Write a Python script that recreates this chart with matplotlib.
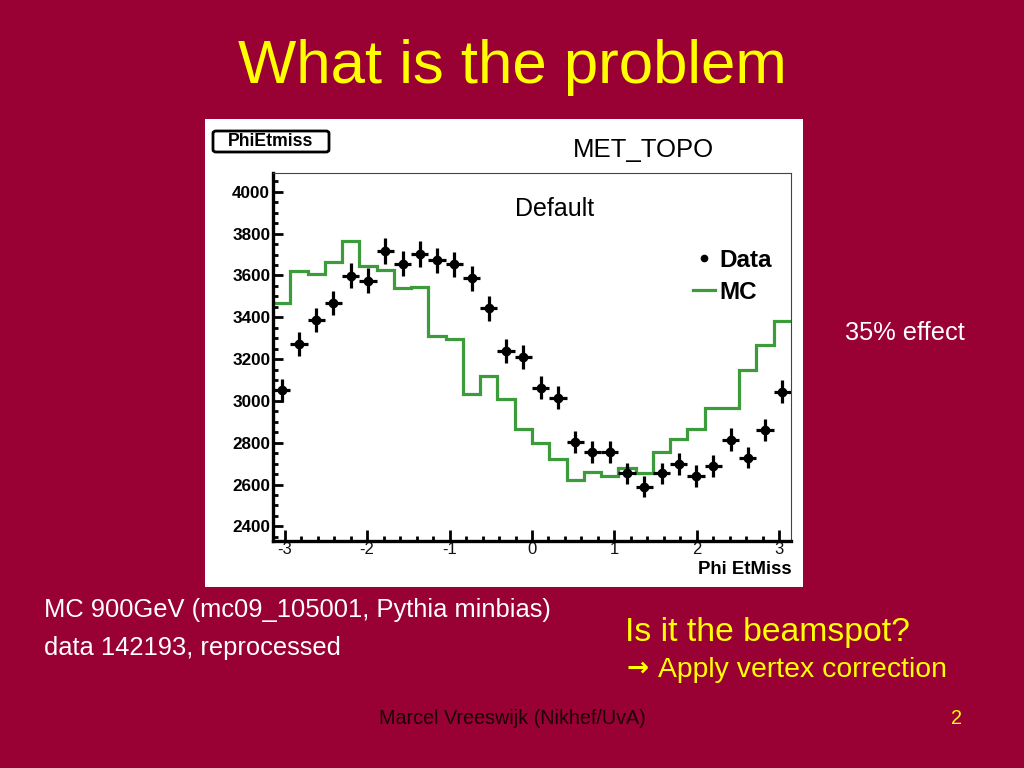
import matplotlib
matplotlib.use('Agg')
import matplotlib.pyplot as plt
import numpy as np
from matplotlib.lines import Line2D
from matplotlib.patches import Rectangle, FancyBboxPatch
from matplotlib.ticker import MultipleLocator

SLIDE_BG = '#990033'
YELLOW = '#ffff00'
MC_GREEN = '#3c9c3c'
FONT = 'Liberation Sans'

# 30 bins in phi, [-pi, pi]
N_BINS = 30
DATA_COUNTS = [3050, 3270, 3386, 3469, 3598, 3574, 3716, 3657, 3702, 3673,
               3653, 3586, 3442, 3239, 3211, 3064, 3016, 2804, 2756, 2756,
               2653, 2589, 2653, 2697, 2640, 2689, 2815, 2729, 2860, 3043]
MC_COUNTS = [3469, 3621, 3609, 3665, 3766, 3646, 3625, 3538, 3545, 3311,
             3298, 3035, 3120, 3007, 2868, 2799, 2724, 2621, 2658, 2640,
             2677, 2656, 2756, 2820, 2868, 2964, 2964, 3150, 3267, 3383]

TITLE = 'What is the problem'
SAMPLE_LINES = ['MC 900GeV (mc09_105001, Pythia minbias)',
                'data 142193, reprocessed']
QUESTION = 'Is it the beamspot?'
ANSWER = 'Apply vertex correction'
FOOTER = 'Marcel Vreeswijk (Nikhef/UvA)'
PAGE = '2'


def px(x, y):
    # slide pixel -> figure fraction
    return x / 1024, 1 - y / 768


def main():
    plt.rcParams['font.family'] = [FONT, 'DejaVu Sans']

    fig = plt.figure(figsize=(10.24, 7.68), dpi=100, facecolor=SLIDE_BG)

    # white canvas behind the ROOT plot
    x0, y0 = px(205, 587)
    x1, y1 = px(803, 119)
    fig.patches.append(Rectangle((x0, y0), x1 - x0, y1 - y0,
                                 transform=fig.transFigure,
                                 facecolor='white', edgecolor='none', zorder=-1))

    # axes frame
    l, b = px(273, 541)
    r, t = px(791, 173)
    ax = fig.add_axes([l, b, r - l, t - b], zorder=1)
    ax.set_facecolor('white')

    edges = np.linspace(-np.pi, np.pi, N_BINS + 1)
    centers = 0.5 * (edges[:-1] + edges[1:])
    halfw = 0.5 * (edges[1] - edges[0])
    data = np.asarray(DATA_COUNTS, dtype=float)

    ax.stairs(MC_COUNTS, edges, baseline=None, color=MC_GREEN, lw=2.3, zorder=2)
    ax.errorbar(centers, data, xerr=halfw, yerr=np.sqrt(data), fmt='o',
                color='black', ms=6, elinewidth=2.3, capsize=0, zorder=3)

    ax.set_xlim(-np.pi, np.pi)
    ax.set_ylim(2330, 4090)
    ax.yaxis.set_major_locator(MultipleLocator(200))
    ax.yaxis.set_minor_locator(MultipleLocator(50))
    ax.xaxis.set_major_locator(MultipleLocator(1))
    ax.xaxis.set_minor_locator(MultipleLocator(0.2))

    for side in ('left', 'bottom'):
        ax.spines[side].set_linewidth(2.4)
    for side in ('top', 'right'):
        ax.spines[side].set_linewidth(0.8)
        ax.spines[side].set_color('#444444')

    ax.tick_params(axis='both', which='both', direction='in',
                   top=False, right=False, width=2.0)
    ax.tick_params(axis='y', which='major', length=7, pad=2, labelsize=12.3)
    ax.tick_params(axis='y', which='minor', length=3.5)
    ax.tick_params(axis='x', which='major', length=8, pad=1, labelsize=12)
    ax.tick_params(axis='x', which='minor', length=3.5)
    for lab in ax.get_yticklabels():
        lab.set_fontweight('bold')
    ax.set_xticks([-3, -2, -1, 0, 1, 2, 3])
    ax.set_xticklabels(['-3', '-2', '-1', '0', '1', '2', '3'], color='#111111')

    # legend
    handles = [Line2D([], [], marker='o', ls='none', color='black', ms=4.5),
               Line2D([], [], color=MC_GREEN, lw=2.3)]
    fig.legend(handles, ['Data', 'MC'], loc='upper left',
               bbox_to_anchor=px(693, 249), frameon=False,
               handlelength=0.9, handletextpad=0.2, labelspacing=0.35,
               borderpad=0, borderaxespad=0,
               prop={'family': FONT, 'weight': 'bold', 'size': 17.5})

    # texts inside the white canvas
    fig.text(*px(643, 150), 'MET_TOPO', fontsize=18.5, ha='center', va='center')
    fig.text(*px(515, 209), 'Default', fontsize=18, ha='left', va='center')
    fig.text(*px(792, 570), 'Phi EtMiss', fontsize=13.4, fontweight='bold',
             ha='right', va='center')

    bx0, by0 = px(213, 152)
    bx1, by1 = px(329, 131)
    fig.patches.append(FancyBboxPatch((bx0, by0), bx1 - bx0, by1 - by0,
                                      boxstyle='round,pad=0,rounding_size=0.003',
                                      transform=fig.transFigure,
                                      facecolor='white', edgecolor='black',
                                      lw=2.0, zorder=5))
    fig.text(*px(271, 142), 'PhiEtmiss', fontsize=12.7, fontweight='bold',
             ha='center', va='center', zorder=6)

    # slide texts
    fig.text(*px(512, 68), TITLE, fontsize=44.5, color=YELLOW,
             ha='center', va='center')
    fig.text(*px(965, 333), '35% effect', fontsize=18.3, color='white',
             ha='right', va='center')
    fig.text(*px(44, 610), SAMPLE_LINES[0], fontsize=18.4, color='white',
             ha='left', va='center')
    fig.text(*px(44, 648), SAMPLE_LINES[1], fontsize=18.4, color='white',
             ha='left', va='center')
    fig.text(*px(625, 633), QUESTION, fontsize=24.3, color=YELLOW,
             ha='left', va='center')
    fig.text(*px(626, 669), '\u2192', fontsize=19, color=YELLOW,
             family='DejaVu Sans', fontweight='bold', ha='left', va='center')
    fig.text(*px(658, 670), ANSWER, fontsize=20.4, color=YELLOW,
             ha='left', va='center')
    fig.text(*px(512, 718), FOOTER, fontsize=14.2, color='#1a0008',
             ha='center', va='center')
    fig.text(*px(957, 718), PAGE, fontsize=14.2, color=YELLOW,
             ha='center', va='center')

    fig.savefig('out.png', dpi=100, facecolor=SLIDE_BG)


if __name__ == '__main__':
    main()
